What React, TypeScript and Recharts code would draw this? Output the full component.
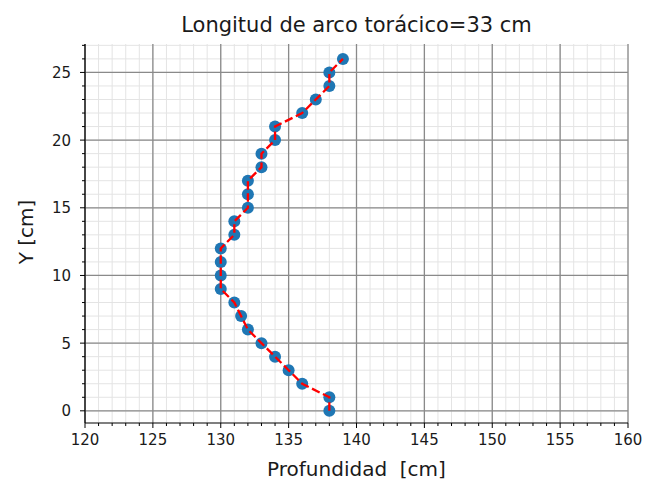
import React from 'react';
import {
  ComposedChart,
  Scatter,
  XAxis,
  YAxis,
  CartesianGrid,
  Label,
} from 'recharts';

// Y position along the arc (cm) and measured depth (cm)
const yValues = [0, 1, 2, 3, 4, 5, 6, 7, 8, 9, 10, 11, 12, 13, 14, 15, 16, 17, 18, 19, 20, 21, 22, 23, 24, 25, 26];
const depthValues = [
  138, 138, 136, 135, 134, 133, 132, 131.5, 131, 130, 130, 130, 130, 131,
  131, 132, 132, 132, 133, 133, 134, 134, 136, 137, 138, 138, 139,
];

const xMajorTicks = [120, 125, 130, 135, 140, 145, 150, 155, 160];
const yMajorTicks = [0, 5, 10, 15, 20, 25];
const xMinorTicks = [
  120, 121, 122, 123, 124, 125, 126, 127, 128, 129, 130, 131, 132, 133, 134, 135, 136, 137, 138, 139, 140,
  141, 142, 143, 144, 145, 146, 147, 148, 149, 150, 151, 152, 153, 154, 155, 156, 157, 158, 159, 160,
];
const yMinorTicks = [0, 1, 2, 3, 4, 5, 6, 7, 8, 9, 10, 11, 12, 13, 14, 15, 16, 17, 18, 19, 20, 21, 22, 23, 24, 25, 26, 27];

const data = yValues.map((y, i) => ({ x: depthValues[i], y }));

const FONT = 'DejaVu Sans, sans-serif';

const XTick = (props: any) => {
  const { x, y, payload } = props;
  const major = xMajorTicks.includes(payload.value);
  return (
    <g>
      <line x1={x} x2={x} y1={y} y2={y + (major ? 5 : 3)} stroke="#000" strokeWidth={1} />
      {major && (
        <text x={x} y={y + 22} textAnchor="middle" fontSize={15} fontFamily={FONT} fill="#1a1a1a">
          {payload.value}
        </text>
      )}
    </g>
  );
};

const YTick = (props: any) => {
  const { x, y, payload } = props;
  const major = yMajorTicks.includes(payload.value);
  return (
    <g>
      <line x1={x - (major ? 5 : 3)} x2={x} y1={y} y2={y} stroke="#000" strokeWidth={1} />
      {major && (
        <text x={x - 14} y={y + 5.5} textAnchor="end" fontSize={15} fontFamily={FONT} fill="#1a1a1a">
          {payload.value}
        </text>
      )}
    </g>
  );
};

const Dot = (props: any) => <circle cx={props.cx} cy={props.cy} r={6} fill="#1f77b4" />;
const NoDot = () => <g />;

export default function App() {
  return (
    <div style={{ position: 'relative', width: 646, height: 485, background: '#fff' }}>
      <style>{'body{margin:0}'}</style>
      <div
        style={{
          position: 'absolute',
          left: 85,
          width: 543,
          top: 15,
          textAlign: 'center',
          fontFamily: FONT,
          fontSize: 21,
          lineHeight: '20px',
          color: '#1a1a1a',
        }}
      >
        Longitud de arco torácico=33 cm
      </div>
      <ComposedChart
        width={646}
        height={485}
        data={data}
        margin={{ top: 44, right: 18, bottom: 0, left: 0 }}
      >
        <CartesianGrid
          horizontalValues={yMinorTicks}
          verticalValues={xMinorTicks}
          stroke="#e4e4e4"
          strokeWidth={1}
        />
        <CartesianGrid
          horizontalValues={yMajorTicks}
          verticalValues={xMajorTicks}
          stroke="#8a8a8a"
          strokeWidth={1.3}
        />
        <XAxis
          dataKey="x"
          type="number"
          domain={[120, 160]}
          ticks={xMinorTicks}
          interval={0}
          height={62}
          tickSize={0}
          tickMargin={0}
          tick={<XTick />}
          axisLine={{ stroke: '#000', strokeWidth: 1.2 }}
          allowDataOverflow
        >
          <Label
            content={(p: any) => (
              <text
                x={p.viewBox.x + p.viewBox.width / 2}
                y={p.viewBox.y + 53}
                textAnchor="middle"
                fontSize={20}
                fontFamily={FONT}
                fill="#1a1a1a"
                style={{ whiteSpace: 'pre' }}
              >
                {'Profundidad  [cm]'}
              </text>
            )}
          />
        </XAxis>
        <XAxis
          xAxisId="top"
          orientation="top"
          type="number"
          domain={[120, 160]}
          height={0}
          tick={false}
          tickLine={false}
          axisLine={{ stroke: '#000', strokeWidth: 1.2 }}
        />
        <YAxis
          dataKey="y"
          type="number"
          domain={[-0.9, 27.1]}
          ticks={yMinorTicks}
          interval={0}
          width={85}
          tickSize={0}
          tickMargin={0}
          tick={<YTick />}
          axisLine={{ stroke: '#000', strokeWidth: 1.2 }}
          allowDataOverflow
        >
          <Label
            content={() => (
              <text
                x={33}
                y={232}
                transform="rotate(-90, 33, 232)"
                textAnchor="middle"
                fontSize={20}
                fontFamily={FONT}
                fill="#1a1a1a"
              >
                Y [cm]
              </text>
            )}
          />
        </YAxis>
        <YAxis
          yAxisId="right"
          orientation="right"
          type="number"
          domain={[-0.9, 27.1]}
          width={0}
          tick={false}
          tickLine={false}
          axisLine={{ stroke: '#000', strokeWidth: 1.2 }}
        />
        {/* blue markers first, red dashed line drawn over them */}
        <Scatter dataKey="y" shape={<Dot />} isAnimationActive={false} />
        <Scatter
          dataKey="y"
          shape={<NoDot />}
          line={{ stroke: '#ff0000', strokeWidth: 2.3, strokeDasharray: '8.5 3.7' }}
          lineType="joint"
          isAnimationActive={false}
        />
      </ComposedChart>
    </div>
  );
}
